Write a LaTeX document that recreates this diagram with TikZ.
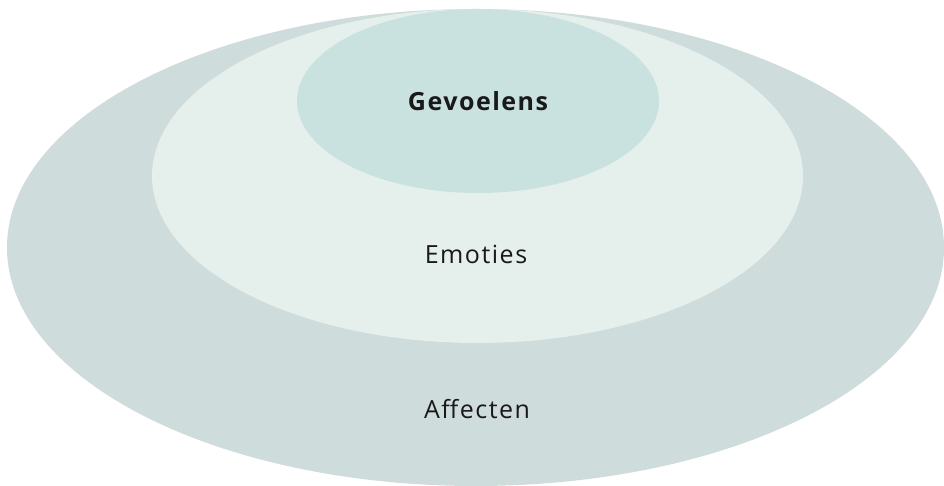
\documentclass[tikz,border=0pt]{standalone}
\usepackage{fontspec}
\setmainfont[LetterSpace=6]{Open Sans}
\usepackage{tikz}
\definecolor{affectkleur}{HTML}{CFDCDC}
\definecolor{emotiekleur}{HTML}{E5EFEC}
\definecolor{gevoelkleur}{HTML}{C9E2DF}
\begin{document}
\begin{tikzpicture}[line cap=round,line join=round,x=1pt,y=1pt,
  label/.style={font=\fontsize{25}{29}\selectfont,text=black!90}]
\useasboundingbox (0,0) rectangle (944,486);
\fill[affectkleur] (475.5,238.5) ellipse (468.5 and 238.5);
\fill[emotiekleur] (477.5,310) ellipse (325.5 and 167);
\fill[gevoelkleur] (478,385) ellipse (181 and 92);
\node[label,font=\fontsize{25}{29}\selectfont\bfseries] (gevoelens) at (478,385) {Gevoelens};
\node[label] (emoties) at (476,232) {Emoties};
\node[label] (affecten) at (477,77) {Affecten};
\end{tikzpicture}
\end{document}
